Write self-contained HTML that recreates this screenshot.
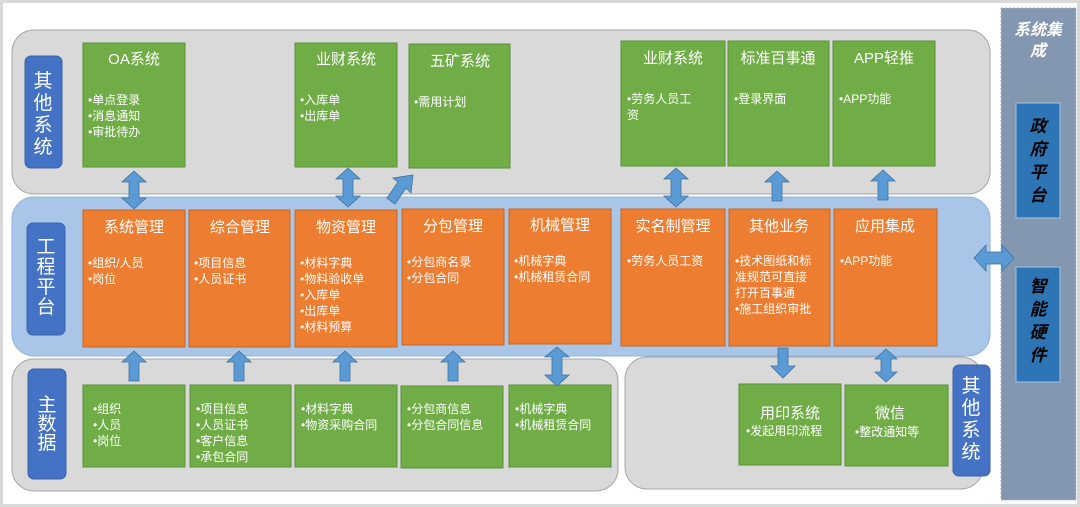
<!DOCTYPE html>
<html><head><meta charset="utf-8"><style>
html,body{margin:0;padding:0;background:#fff}
svg{display:block;font-family:"Liberation Sans","Noto Sans CJK SC",sans-serif}
.t{fill:#fff;font-size:15px;text-anchor:middle}
.i{fill:#fff;font-size:12px}
.g{fill:#70ad47;stroke:#5b8f3a;stroke-width:1}
.o{fill:#ed7d31;stroke:#c8651f;stroke-width:1}
.a{fill:#5b9bd5;stroke:#41719c;stroke-width:0.8}
.l{fill:#4472c4;stroke:#3a62a8}
.lt{fill:#fff;font-size:19px;text-anchor:middle}
</style></head><body>
<svg width="1080" height="507" viewBox="0 0 1080 507">
<rect x="1.5" y="1.5" width="1077" height="504" fill="#fff" stroke="#d9d9d9" stroke-width="3"/>
<!-- right column -->
<rect x="1001" y="8" width="75" height="492" fill="#8497b0" stroke="#aab6c8" stroke-dasharray="2,2"/>
<text x="1038" y="35" fill="#fff" font-size="16" font-style="italic" font-weight="bold" text-anchor="middle">系统集</text>
<text x="1038" y="56" fill="#fff" font-size="16" font-style="italic" font-weight="bold" text-anchor="middle">成</text>
<rect x="1016" y="103" width="44" height="115" fill="#2e75b6" stroke="#9dc3e6"/>
<g font-size="17" font-style="italic" font-weight="bold" fill="#000" text-anchor="middle">
<text x="1038" y="132">政</text><text x="1038" y="155">府</text><text x="1038" y="178">平</text><text x="1038" y="201">台</text>
</g>
<rect x="1016" y="267" width="44" height="115" fill="#2e75b6" stroke="#9dc3e6"/>
<g font-size="17" font-style="italic" font-weight="bold" fill="#000" text-anchor="middle">
<text x="1038" y="292">智</text><text x="1038" y="315">能</text><text x="1038" y="338">硬</text><text x="1038" y="361">件</text>
</g>
<!-- panels -->
<rect x="12" y="30" width="978" height="164" rx="22" fill="#d9d9d9" stroke="#a6a6a6"/>
<rect x="12" y="197" width="978" height="159" rx="22" fill="#a9c6e8" stroke="#8fb4de"/>
<rect x="12" y="359" width="606" height="132" rx="22" fill="#d9d9d9" stroke="#a6a6a6"/>
<rect x="625" y="357" width="358" height="132" rx="22" fill="#d9d9d9" stroke="#a6a6a6"/>
<!-- labels -->
<rect x="25" y="56" width="37" height="112" rx="6" class="l"/>
<text class="lt"><tspan x="43" y="87">其</tspan><tspan x="43" y="109">他</tspan><tspan x="43" y="131">系</tspan><tspan x="43" y="153">统</tspan></text>
<rect x="27" y="223" width="38" height="112" rx="6" class="l"/>
<text class="lt"><tspan x="46" y="253">工</tspan><tspan x="46" y="273">程</tspan><tspan x="46" y="293">平</tspan><tspan x="46" y="313">台</tspan></text>
<rect x="28" y="369" width="38" height="110" rx="6" class="l"/>
<text class="lt"><tspan x="47" y="411">主</tspan><tspan x="47" y="430">数</tspan><tspan x="47" y="449">据</tspan></text>
<rect x="953" y="365" width="37" height="111" rx="6" class="l"/>
<text class="lt"><tspan x="971" y="392">其</tspan><tspan x="971" y="414">他</tspan><tspan x="971" y="436">系</tspan><tspan x="971" y="458">统</tspan></text>
<!-- top green -->
<rect class="g" x="83" y="43" width="102" height="124"/>
<text class="t" x="134" y="64">OA系统</text>
<text class="i"><tspan x="88" y="104">•单点登录</tspan><tspan x="88" y="120">•消息通知</tspan><tspan x="88" y="136">•审批待办</tspan></text>
<rect class="g" x="295" y="43" width="102" height="124"/>
<text class="t" x="346" y="64">业财系统</text>
<text class="i"><tspan x="300" y="104">•入库单</tspan><tspan x="300" y="120">•出库单</tspan></text>
<rect class="g" x="409" y="44" width="101" height="124"/>
<text class="t" x="460" y="66">五矿系统</text>
<text class="i"><tspan x="414" y="106">•需用计划</tspan></text>
<rect class="g" x="621" y="41" width="104" height="125"/>
<text class="t" x="673" y="63">业财系统</text>
<text class="i"><tspan x="627" y="103">•劳务人员工</tspan><tspan x="627" y="119">资</tspan></text>
<rect class="g" x="728" y="41" width="101" height="125"/>
<text class="t" x="778" y="63">标准百事通</text>
<text class="i"><tspan x="734" y="103">•登录界面</tspan></text>
<rect class="g" x="833" y="41" width="102" height="125"/>
<text class="t" x="884" y="63">APP轻推</text>
<text class="i"><tspan x="839" y="103">•APP功能</tspan></text>
<!-- orange -->
<rect class="o" x="83" y="210" width="102" height="137"/>
<text class="t" x="134" y="232">系统管理</text>
<text class="i"><tspan x="88" y="267">•组织/人员</tspan><tspan x="88" y="283">•岗位</tspan></text>
<rect class="o" x="189" y="210" width="101" height="137"/>
<text class="t" x="240" y="232">综合管理</text>
<text class="i"><tspan x="194" y="267">•项目信息</tspan><tspan x="194" y="283">•人员证书</tspan></text>
<rect class="o" x="295" y="210" width="102" height="137"/>
<text class="t" x="346" y="232">物资管理</text>
<text class="i"><tspan x="300" y="267">•材料字典</tspan><tspan x="300" y="283">•物料验收单</tspan><tspan x="300" y="299">•入库单</tspan><tspan x="300" y="315">•出库单</tspan><tspan x="300" y="331">•材料预算</tspan></text>
<rect class="o" x="402" y="209" width="102" height="136"/>
<text class="t" x="453" y="231">分包管理</text>
<text class="i"><tspan x="407" y="266">•分包商名录</tspan><tspan x="407" y="282">•分包合同</tspan></text>
<rect class="o" x="509" y="209" width="102" height="135"/>
<text class="t" x="560" y="230">机械管理</text>
<text class="i"><tspan x="514" y="265">•机械字典</tspan><tspan x="514" y="281">•机械租赁合同</tspan></text>
<rect class="o" x="621" y="209" width="104" height="137"/>
<text class="t" x="673" y="231">实名制管理</text>
<text class="i"><tspan x="627" y="265">•劳务人员工资</tspan></text>
<rect class="o" x="729" y="209" width="101" height="137"/>
<text class="t" x="779" y="231">其他业务</text>
<text class="i"><tspan x="735" y="265">•技术图纸和标</tspan><tspan x="735" y="281">准规范可直接</tspan><tspan x="735" y="297">打开百事通</tspan><tspan x="735" y="313">•施工组织审批</tspan></text>
<rect class="o" x="834" y="209" width="103" height="137"/>
<text class="t" x="885" y="231">应用集成</text>
<text class="i"><tspan x="840" y="265">•APP功能</tspan></text>
<!-- bottom green -->
<rect class="g" x="83" y="385" width="102" height="82"/>
<text class="i"><tspan x="93" y="413">•组织</tspan><tspan x="93" y="429">•人员</tspan><tspan x="93" y="445">•岗位</tspan></text>
<rect class="g" x="190" y="385" width="101" height="82"/>
<text class="i"><tspan x="196" y="413">•项目信息</tspan><tspan x="196" y="429">•人员证书</tspan><tspan x="196" y="445">•客户信息</tspan><tspan x="196" y="461">•承包合同</tspan></text>
<rect class="g" x="295" y="385" width="102" height="82"/>
<text class="i"><tspan x="301" y="413">•材料字典</tspan><tspan x="301" y="429">•物资采购合同</tspan></text>
<rect class="g" x="401" y="386" width="102" height="82"/>
<text class="i"><tspan x="407" y="413">•分包商信息</tspan><tspan x="407" y="429">•分包合同信息</tspan></text>
<rect class="g" x="509" y="385" width="102" height="82"/>
<text class="i"><tspan x="515" y="413">•机械字典</tspan><tspan x="515" y="429">•机械租赁合同</tspan></text>
<rect class="g" x="739" y="384" width="102" height="81"/>
<text class="t" x="790" y="418" font-size="17">用印系统</text>
<text class="i"><tspan x="746" y="435">•发起用印流程</tspan></text>
<rect class="g" x="845" y="385" width="103" height="81"/>
<text class="t" x="890" y="418" font-size="17">微信</text>
<text class="i"><tspan x="855" y="436">•整改通知等</tspan></text>
<!-- arrows: double vertical -->
<path class="a" d="M134,171 L146,182 L139,182 L139,198 L146,198 L134,209 L122,198 L129,198 L129,182 L122,182 Z"/>
<path class="a" d="M348,168 L360,179 L353,179 L353,196 L360,196 L348,207 L336,196 L343,196 L343,179 L336,179 Z"/>
<path class="a" d="M676,168 L688,179 L681,179 L681,196 L688,196 L676,207 L664,196 L671,196 L671,179 L664,179 Z"/>
<path class="a" d="M557,347 L569,357 L562,357 L562,375 L569,375 L557,386 L545,375 L552,375 L552,357 L545,357 Z"/>
<path class="a" d="M886,349 L897,359 L891,359 L891,372 L897,372 L886,382 L875,372 L881,372 L881,359 L875,359 Z"/>
<!-- up arrows -->
<path class="a" d="M777,171 L789,182 L782,182 L782,201 L772,201 L772,182 L765,182 Z"/>
<path class="a" d="M883,170 L895,181 L888,181 L888,200 L878,200 L878,181 L871,181 Z"/>
<path class="a" d="M134,351 L146,362 L139,362 L139,381 L129,381 L129,362 L122,362 Z"/>
<path class="a" d="M239,351 L251,362 L244,362 L244,381 L234,381 L234,362 L227,362 Z"/>
<path class="a" d="M345,351 L357,362 L350,362 L350,381 L340,381 L340,362 L333,362 Z"/>
<path class="a" d="M453,351 L465,362 L458,362 L458,381 L448,381 L448,362 L441,362 Z"/>
<!-- down arrow -->
<path class="a" d="M778,348 L788,348 L788,366 L795,366 L783,378 L771,366 L778,366 Z"/>
<!-- diagonal -->
<path class="a" d="M413,175 L411,193 L406,188 L395,204 L387,198 L398,182 L393,178 Z"/>
<!-- horizontal double -->
<path class="a" d="M974,258 L986,245 L986,252 L1002,252 L1002,245 L1014,258 L1002,271 L1002,264 L986,264 L986,271 Z"/>
</svg>
</body></html>
